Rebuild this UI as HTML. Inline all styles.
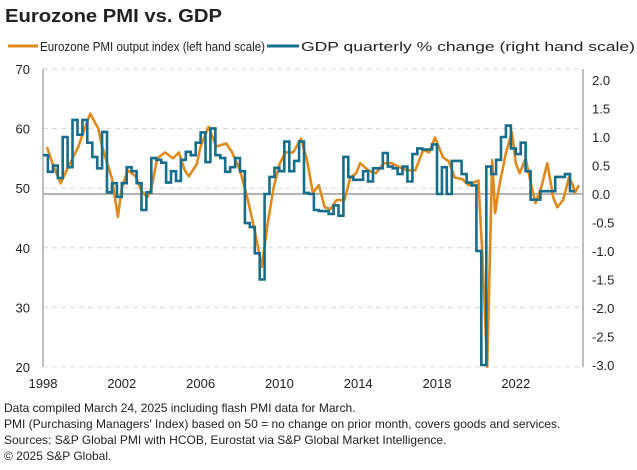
<!DOCTYPE html>
<html><head><meta charset="utf-8"><style>
body{margin:0;background:#fff;width:637px;height:465px;overflow:hidden;font-family:"Liberation Sans",Arial,sans-serif}
svg text{font-family:"Liberation Sans",Arial,sans-serif;fill:#222}
</style></head><body>
<svg id="chart" width="637" height="465">
<text x="5" y="22" font-size="18" font-weight="bold" textLength="217" lengthAdjust="spacingAndGlyphs">Eurozone PMI vs. GDP</text>
<g>
<line x1="8" y1="46" x2="38" y2="46" stroke="#e08a1e" stroke-width="3"/>
<text x="40" y="51" font-size="13" textLength="225" lengthAdjust="spacingAndGlyphs">Eurozone PMI output index (left hand scale)</text>
<line x1="267" y1="46" x2="299" y2="46" stroke="#176e8a" stroke-width="3"/>
<text x="301" y="51" font-size="13" textLength="334" lengthAdjust="spacingAndGlyphs">GDP quarterly % change (right hand scale)</text>
</g>
<g id="grid"></g>
<g id="axes"></g>
<g id="series"></g>
<g font-size="12">
<text x="4" y="412">Data compiled March 24, 2025 including flash PMI data for March.</text>
<text x="4" y="428">PMI (Purchasing Managers' Index) based on 50 = no change on prior month, covers goods and services.</text>
<text x="4" y="444">Sources: S&amp;P Global PMI with HCOB, Eurostat via S&amp;P Global Market Intelligence.</text>
<text x="4" y="460">© 2025 S&amp;P Global.</text>
</g>
</svg>
<script>
const leftTicks=[70,60,50,40,30,20];
const rightTicks=["2.0","1.5","1.0","0.5","0.0","-0.5","-1.0","-1.5","-2.0","-2.5","-3.0"];
const yearTicks=[1998,2002,2006,2010,2014,2018,2022];
const pmiDates=[1998.2,1998.5,1998.9,1999.2,1999.5,1999.8,2000.0,2000.4,2000.8,2001.0,2001.5,2001.8,2002.0,2002.3,2002.7,2003.0,2003.3,2003.5,2003.8,2004.2,2004.6,2004.9,2005.2,2005.4,2005.8,2006.0,2006.4,2006.8,2007.3,2007.6,2008.0,2008.4,2008.8,2009.1,2009.4,2009.7,2010.0,2010.3,2010.7,2011.1,2011.4,2011.7,2012.0,2012.3,2012.6,2012.9,2013.3,2013.6,2013.9,2014.1,2014.5,2014.9,2015.3,2015.7,2016.1,2016.5,2016.9,2017.3,2017.6,2017.9,2018.3,2018.6,2018.9,2019.3,2019.6,2019.9,2020.1,2020.3,2020.55,2020.8,2020.95,2021.1,2021.2,2021.5,2021.8,2022.0,2022.2,2022.5,2022.8,2023.0,2023.3,2023.6,2023.9,2024.1,2024.4,2024.7,2024.9,2025.0,2025.2];
const pmiValues=[56.9,54,50.8,53,55,57,59,62.5,60,57,51.6,45.2,50,53,52,49.5,48.5,50,55,56,55,56,53,52,54,57,60.3,57,57.5,56,53,48,42,36.8,44,50,54,56,56,58.3,54.7,49.2,50.5,46.8,46.5,48,48,51.8,52.5,54.2,53,52.5,54.2,54.2,53.5,53,53,56.4,56,58.5,55.2,54.5,51.8,51.5,50.5,51,51.3,39,20,54.7,45.8,49.2,51,55.9,59.4,54.2,52.5,55,50.2,47.5,50.2,54.2,48.5,46.8,48,51.8,50.5,49.2,50.5];
const gdpStart=1998.0;
const gdpValues=[0.68,0.39,0.5,0.28, 1.0,0.47,1.3,1.04, 1.3,0.9,0.65,0.45, 1.09,0.03,0.19,-0.05, 0.19,0.47,0.4,0.19, -0.28,0.03,0.63,0.6, 0.55,0.2,0.4,0.23, 0.6,0.74,0.68,0.9, 1.08,0.56,1.15,0.68, 0.63,0.39,0.47,0.63, 0.4,-0.51,-0.58,-1.04, -1.5,0.0,0.3,0.46, 0.4,0.92,0.4,0.58, 0.92,0.02,0.0,-0.28, -0.3,-0.3,-0.35,-0.2, -0.38,0.65,0.3,0.25, 0.25,0.4,0.22,0.45, 0.45,0.72,0.48,0.45, 0.35,0.48,0.22,0.7, 0.8,0.78,0.78,0.87, 0.0,0.47,0.0,0.58, 0.58,0.35,0.2,0.15, -1.0,-3.2,0.48,0.35, 0.6,1.0,1.2,0.8, 0.7,0.9,0.4,-0.1, -0.1,0.05,0.05,0.05, 0.3,0.3,0.35,0.05];

const X0=43,X1=583,YT=69,YB=367;
const xs=t=>X0+(t-1998)*19.7;
const yl=v=>YB-(v-20)/50*(YB-YT);
const yr=g=>194-g*57;
const clampR=g=>Math.max(-3,Math.min(2.2,g));
const NS="http://www.w3.org/2000/svg";
function mk(tag,attrs,parent){const e=document.createElementNS(NS,tag);for(const k in attrs)e.setAttribute(k,attrs[k]);parent.appendChild(e);return e;}
const grid=document.getElementById('grid'),axes=document.getElementById('axes'),series=document.getElementById('series');
leftTicks.forEach(v=>{
  if(v>20){const l=mk('line',{x1:X0,x2:X1,y1:yl(v),y2:yl(v),stroke:'#d6d6d6','stroke-dasharray':'5,4'},grid);
  
  }
  const t=mk('text',{x:30,y:yl(v)+5,'font-size':13,'text-anchor':'end'},axes);t.textContent=v;
  
  
});
rightTicks.forEach(s=>{
  const t=mk('text',{x:592,y:yr(parseFloat(s))+5,'font-size':13},axes);t.textContent=s;
  
  
});
yearTicks.forEach(y=>{
  const t=mk('text',{x:xs(y),y:388,'font-size':13,'text-anchor':'middle'},axes);t.textContent=y;
  
  
});
const zl=mk('line',{x1:X0,x2:X1,y1:yr(0),y2:yr(0),stroke:'#9a9a9a','stroke-width':1.5},axes);


const la=mk('line',{x1:X0,x2:X0,y1:YT,y2:YB,stroke:'#aaa','stroke-width':1.5},axes);


const ra=mk('line',{x1:X1,x2:X1,y1:YT,y2:YB,stroke:'#aaa','stroke-width':1.5},axes);


const ba=mk('line',{x1:X0,x2:X1,y1:YB,y2:YB,stroke:'#ddd','stroke-dasharray':'5,4'},axes);


let pd='';pmiDates.forEach((d,i)=>{pd+=(i?'L':'M')+xs(d).toFixed(1)+','+yl(Math.max(20,pmiValues[i])).toFixed(1);});
const pl=mk('path',{d:pd,fill:'none',stroke:'#e08a1e','stroke-width':2.6,'stroke-linejoin':'round'},series);


let gd='';gdpValues.forEach((g,i)=>{const t=gdpStart+i*0.25;const y=yr(clampR(g)).toFixed(1);gd+=(i?'L':'M')+xs(t).toFixed(1)+','+y+'L'+xs(t+0.25).toFixed(1)+','+y;});
const gl=mk('path',{d:gd,fill:'none',stroke:'#176e8a','stroke-width':2.6,'stroke-linejoin':'miter'},series);


</script>
</body></html>
